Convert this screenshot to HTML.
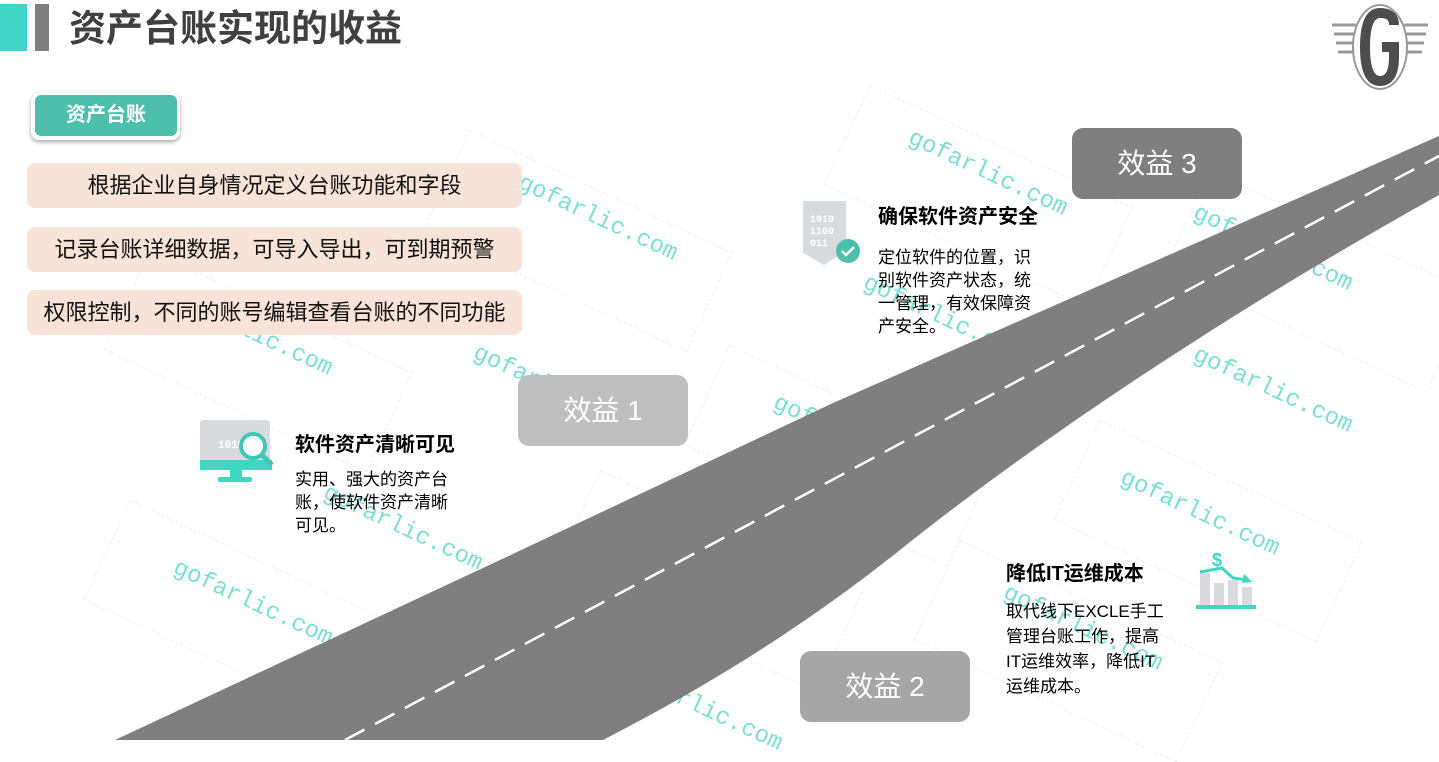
<!DOCTYPE html>
<html><head><meta charset="utf-8"><style>
*{margin:0;padding:0;box-sizing:border-box}
body{width:1439px;height:740px;overflow:hidden;background:#fff;position:relative;font-family:"Liberation Sans","Noto Sans CJK SC",sans-serif}
.a{position:absolute}
.wm{position:absolute;color:#7ddfd2;font-family:"Liberation Mono",monospace;font-size:24px;transform:rotate(25deg);transform-origin:left top;white-space:nowrap}
.wr{position:absolute;border:1px dashed #eee;width:290px;height:110px;transform:rotate(25deg);transform-origin:left top}
.pill{position:absolute;left:27px;width:495px;height:45px;background:#f7e3d7;border-radius:8px;font-size:22px;color:#111;text-align:center;line-height:45px}
.box{position:absolute;width:170px;height:71px;border-radius:11px;color:#fff;font-size:28px;text-align:center;line-height:71px}
.h{position:absolute;font-size:20px;font-weight:bold;color:#000}
.p{position:absolute;font-size:17px;color:#000;line-height:23px;width:160px}
</style></head><body>
<div class="wr" style="left:470px;top:130px"></div>
<div class="wr" style="left:870px;top:85px"></div>
<div class="wr" style="left:1210px;top:170px"></div>
<div class="wr" style="left:150px;top:250px"></div>
<div class="wr" style="left:730px;top:345px"></div>
<div class="wr" style="left:1100px;top:420px"></div>
<div class="wr" style="left:130px;top:500px"></div>
<div class="wr" style="left:600px;top:470px"></div>
<div class="wr" style="left:960px;top:540px"></div>
<div class="wm" style="left:525px;top:170px">gofarlic.com</div>
<div class="wm" style="left:915px;top:125px">gofarlic.com</div>
<div class="wm" style="left:1200px;top:200px">gofarlic.com</div>
<div class="wm" style="left:1200px;top:342px">gofarlic.com</div>
<div class="wm" style="left:1127px;top:465px">gofarlic.com</div>
<div class="wm" style="left:180px;top:285px">gofarlic.com</div>
<div class="wm" style="left:480px;top:340px">gofarlic.com</div>
<div class="wm" style="left:780px;top:390px">gofarlic.com</div>
<div class="wm" style="left:870px;top:270px">gofarlic.com</div>
<div class="wm" style="left:330px;top:480px">gofarlic.com</div>
<div class="wm" style="left:180px;top:555px">gofarlic.com</div>
<div class="wm" style="left:1010px;top:580px">gofarlic.com</div>
<div class="wm" style="left:630px;top:660px">gofarlic.com</div>

<svg class="a" style="left:0;top:0" width="1439" height="740">
<path d="M115,740 L500,560 L833,403 L1439,136 L1439,195 C1250,300 1050,430 900,550 C800,630 700,690 603,740 Z" fill="#7f7f7f"/>
<path d="M345,740 L1439,156" stroke="#fff" stroke-width="2.5" stroke-dasharray="22 12"/>
<g transform="translate(1380,47)">
<path d="M-48,-22 h24 M-46,-13 h22 M-44,-4 h20 M-42,5 h18 M24,-22 h24 M24,-13 h22 M24,-4 h20 M24,5 h18" stroke="#999" stroke-width="3"/>
<ellipse cx="0" cy="0" rx="27" ry="42" fill="#fff" stroke="#999" stroke-width="2"/>
<path d="M14,-22 Q14,-34 0,-34 Q-15,-34 -15,0 Q-15,34 0,34 Q14,34 14,10 L14,0 L2,0" fill="none" stroke="#4d4d4d" stroke-width="10"/>
</g>
<rect x="200" y="420" width="70" height="50" rx="3" fill="#d8dade"/>
<rect x="200" y="460" width="72" height="10" fill="#3fd6c4"/>
<rect x="230" y="470" width="12" height="8" fill="#3fd6c4"/>
<rect x="218" y="477" width="34" height="5" rx="2" fill="#3fd6c4"/>
<text x="218" y="448" font-size="11" fill="#fff" font-weight="bold" font-family="Liberation Mono">1010</text>
<circle cx="253" cy="446" r="12" fill="#fff" stroke="#3fc9b4" stroke-width="4"/>
<path d="M262,455 L272,465" stroke="#3fc9b4" stroke-width="5"/>
<path d="M803,201 h43 v50 l-22,14 l-21,-12 z" fill="#d8dade"/>
<text x="810" y="222" font-size="10" fill="#fff" font-weight="bold" font-family="Liberation Mono">1010</text>
<text x="810" y="234" font-size="10" fill="#fff" font-weight="bold" font-family="Liberation Mono">1100</text>
<text x="810" y="246" font-size="10" fill="#fff" font-weight="bold" font-family="Liberation Mono">011</text>
<circle cx="848" cy="251" r="12" fill="#4dbfaa"/>
<path d="M842,251 l4,4 l8,-8" stroke="#fff" stroke-width="2.5" fill="none"/>
<rect x="1200" y="573" width="10" height="32" fill="#d8dade"/>
<rect x="1214" y="583" width="10" height="22" fill="#d8dade"/>
<rect x="1228" y="580" width="10" height="25" fill="#d8dade"/>
<rect x="1242" y="587" width="10" height="18" fill="#d8dade"/>
<rect x="1196" y="605" width="60" height="4" fill="#3fd6c4"/>
<path d="M1200,572 L1222,568 L1233,578 L1248,580" stroke="#3fd6c4" stroke-width="3" fill="none"/>
<path d="M1244,574 L1252,582 L1242,583 z" fill="#3fd6c4"/>
<text x="1212" y="566" font-size="18" font-weight="bold" fill="#3fd6c4">$</text>
</svg>

<div class="a" style="left:0;top:4px;width:27px;height:47px;background:#3fd6c8"></div>
<div class="a" style="left:35px;top:4px;width:14px;height:47px;background:#7f7f7f"></div>
<div class="a" style="left:69px;top:5px;font-size:37px;font-weight:bold;color:#404040;line-height:48px">资产台账实现的收益</div>

<div class="a" style="left:31px;top:93px;width:149px;height:47px;border-radius:8px;background:#fff;box-shadow:0 2px 4px rgba(0,0,0,.35)"></div>
<div class="a" style="left:35px;top:95px;width:142px;height:41px;border-radius:6px;background:#4dbfaa;color:#fff;font-weight:bold;font-size:20px;text-align:center;line-height:41px">资产台账</div>

<div class="pill" style="top:163px">根据企业自身情况定义台账功能和字段</div>
<div class="pill" style="top:227px">记录台账详细数据，可导入导出，可到期预警</div>
<div class="pill" style="top:290px">权限控制，不同的账号编辑查看台账的不同功能</div>

<div class="box" style="left:518px;top:375px;background:#bfbfbf">效益 1</div>
<div class="box" style="left:800px;top:651px;background:#a6a6a6">效益 2</div>
<div class="box" style="left:1072px;top:128px;background:#7f7f7f">效益 3</div>

<div class="h" style="left:295px;top:428px">软件资产清晰可见</div>
<div class="p" style="left:295px;top:468px">实用、强大的资产台账，使软件资产清晰可见。</div>
<div class="h" style="left:878px;top:200px">确保软件资产安全</div>
<div class="p" style="left:878px;top:246px">定位软件的位置，识别软件资产状态，统一管理，有效保障资产安全。</div>
<div class="h" style="left:1006px;top:557px">降低IT运维成本</div>
<div class="p" style="left:1006px;top:599px;line-height:25px;width:160px">取代线下EXCLE手工管理台账工作，提高IT运维效率，降低IT运维成本。</div>
</body></html>
